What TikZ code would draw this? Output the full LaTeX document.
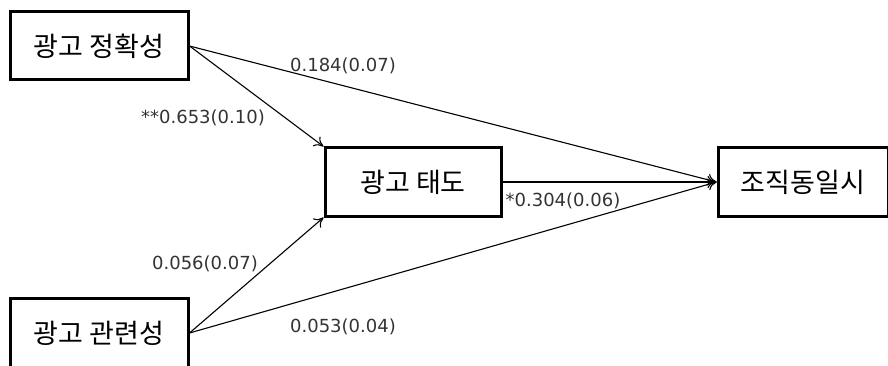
\documentclass[tikz,border=0pt]{standalone}
\usepackage{fontspec}
\setmainfont{Noto Sans CJK KR}
\newfontfamily\labfont{DejaVu Sans}
\usetikzlibrary{arrows.meta}
\begin{document}
\begin{tikzpicture}[x=1pt,y=1pt,
  box/.style={draw,line width=3pt,minimum height=68pt,inner sep=0pt,font=\fontsize{27}{29}\selectfont},
  conn/.style={line width=1.1pt,-{To[length=9pt,width=12pt]}},
  lab/.style={inner sep=0pt,font=\labfont\fontsize{18}{20}\selectfont,text=black!80}]
\useasboundingbox (0,0) rectangle (888,-366);
\node[box,minimum width=178pt] (acc) at (99,-46) {광고 정확성};
\node[box,minimum width=176pt] (att) at (413,-182) {광고 태도};
\node[box,minimum width=178pt,minimum height=70pt] (rel) at (99,-333) {광고 관련성};
\node[box,minimum width=170pt] (org) at (803,-182) {조직동일시};
\draw[conn] (acc.east) -- (att.north west);
\draw[conn] (acc.east) -- (org.west);
\draw[conn] (att.east) -- (org.west);
\draw[conn] (rel.east) -- (att.south west);
\draw[conn] (rel.east) -- (org.west);
\node[lab] (l1) at (343,-66) {0.184(0.07)};
\node[lab] (l2) at (203,-118) {**0.653(0.10)};
\node[lab] (l3) at (205,-264) {0.056(0.07)};
\node[lab] (l4) at (343,-327) {0.053(0.04)};
\node[lab] (l5) at (563,-201) {*0.304(0.06)};
\end{tikzpicture}
\end{document}
